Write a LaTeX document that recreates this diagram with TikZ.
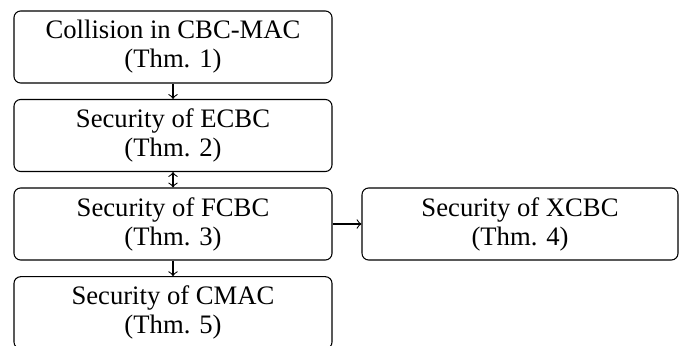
\documentclass[tikz,border=0pt]{standalone}
\usepackage{fontspec}
\setmainfont{Liberation Serif}
\begin{document}
\begin{tikzpicture}[x=0.375pt,y=-0.375pt,
  thmbox/.style={draw, rounded corners=2.5pt, align=center, inner sep=0pt,
    minimum width=119.25pt, minimum height=27pt, line width=0.4pt,
    font=\fontsize{10}{10.9}\selectfont},
  conn/.style={line width=0.4pt}]
\useasboundingbox (0,0) rectangle (682,345);
\clip (0,0) rectangle (682,345);
\node[thmbox] (b1) at (173,47) {Collision in CBC-MAC\\(Thm. 1)};
\node[thmbox] (b2) at (173,135.5) {Security of ECBC\\(Thm. 2)};
\node[thmbox] (b3) at (173,224) {Security of FCBC\\(Thm. 3)};
\node[thmbox] (b4) at (173,312.7) {Security of CMAC\\(Thm. 5)};
\node[thmbox, minimum width=118.5pt] (b5) at (520,224) {Security of XCBC\\(Thm. 4)};
\draw[conn,->] (b1) -- (b2);
\draw[conn,<->] (b2) -- (b3);
\draw[conn,->] (b3) -- (b4);
\draw[conn,->] (b3) -- (b5);
\end{tikzpicture}
\end{document}
